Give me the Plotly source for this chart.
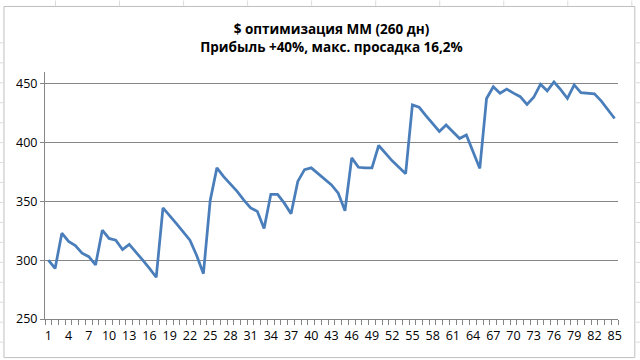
import plotly.graph_objects as go

days = list(range(1, 86))
balance = [
    300, 293, 323, 316, 312.5, 306, 303, 296, 325.5, 318.5,
    317, 309, 313.5, 307, 300, 293, 285.5, 344.5, 338, 331,
    324, 317, 304, 288.5, 350.5, 378.5, 371, 365, 358.5, 351,
    344.5, 341.5, 327, 356, 356, 348.5, 339.5, 367, 377, 378.5,
    373.5, 369, 364, 357, 342, 387, 379, 378.5, 378.5, 397.5,
    391, 384.5, 379, 373.5, 432, 430, 423, 416.5, 409.5, 415,
    409, 403.5, 406.5, 392, 378, 437.5, 447.5, 442, 445.5, 442,
    439, 432.5, 438.5, 449.5, 444, 451.5, 445, 437.5, 449, 442.5,
    442, 441.5, 435.5, 428, 420.5,
]
tick_days = list(range(1, 86, 3))
y_ticks = [250, 300, 350, 400, 450]
title_lines = ["$ оптимизация ММ (260 дн)", "Прибыль +40%, макс. просадка 16,2%"]

W, H = 640, 360
L, R, T, B = 45, 22.3, 71.7, 40.7
pw, ph = W - L - R, H - T - B

def px(x):
    return (x - L) / pw

def py(y):
    return (H - B - y) / ph

fig = go.Figure()
fig.add_trace(go.Scatter(
    x=days, y=balance, mode="lines",
    line=dict(color="#4A7EBB", width=2.75),
    hoverinfo="x+y", showlegend=False,
))

shapes = []
# chart border
shapes.append(dict(type="rect", xref="paper", yref="paper",
                   x0=px(4), x1=px(634.5), y0=py(358), y1=py(6),
                   line=dict(color="#BFBFBF", width=1), layer="below"))
# spreadsheet cell lines outside chart (top and sides)
for gx in [55.5, 119.5, 183.5, 247.5, 311.5, 375.5, 439.5, 503.5, 567.5, 631.5]:
    shapes.append(dict(type="line", xref="paper", yref="paper",
                       x0=px(gx), x1=px(gx), y0=py(0), y1=py(5.5),
                       line=dict(color="#DADCDD", width=1)))
for gy in [42.5, 62.5, 82.5, 102.5, 122.5, 142.5, 162.5, 182.5, 202.5, 222.5,
           242.5, 262.5, 282.5, 302.5, 322.5, 342.5]:
    shapes.append(dict(type="line", xref="paper", yref="paper",
                       x0=px(635.5), x1=px(640), y0=py(gy), y1=py(gy),
                       line=dict(color="#DADCDD", width=1)))
    shapes.append(dict(type="line", xref="paper", yref="paper",
                       x0=px(0), x1=px(3.5), y0=py(gy), y1=py(gy),
                       line=dict(color="#DADCDD", width=1)))

fig.update_layout(
    width=W, height=H,
    margin=dict(l=L, r=R, t=T, b=B, pad=0),
    paper_bgcolor="white", plot_bgcolor="white",
    font=dict(family="Open Sans, Noto Sans, sans-serif", size=12.5, color="#000000"),
    title=dict(
        text="<b>" + title_lines[0] + "</b><br><b>" + title_lines[1] + "</b>",
        x=0.5, xref="paper", xanchor="center",
        y=0.905, yanchor="top",
        font=dict(family="Open Sans, Noto Sans, sans-serif", size=13.5, color="#000000"),
    ),
    xaxis=dict(
        range=[0.5, 85.5], tickmode="array", tickvals=tick_days,
        ticktext=[str(d) for d in tick_days],
        showgrid=False, zeroline=False,
        showline=True, linecolor="#868686", linewidth=1,
        ticks="", ticklabelstandoff=5,
        minor=dict(tickmode="linear", tick0=0.5, dtick=1, ticks="outside",
                   ticklen=5, tickcolor="#868686", showgrid=False),
        tickfont=dict(size=12.5),
        fixedrange=True,
    ),
    yaxis=dict(
        range=[250, 460], tickmode="array", tickvals=y_ticks,
        showgrid=True, gridcolor="#868686", gridwidth=1,
        zeroline=False, showline=True, linecolor="#868686", linewidth=1,
        ticks="outside", ticklen=4, tickcolor="#868686",
        tickfont=dict(size=12.5),
        fixedrange=True,
    ),
    shapes=shapes,
)

fig.write_html("out.html", config={"displayModeBar": False},
               post_script="document.body.style.margin='0';")
